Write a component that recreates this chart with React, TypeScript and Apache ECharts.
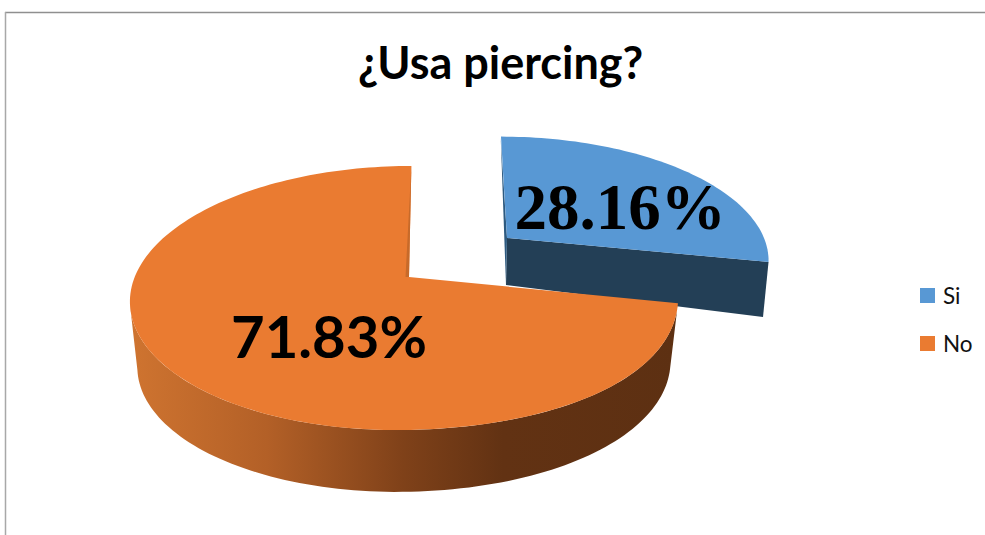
import React, { useEffect, useRef } from "react";
import * as echarts from "echarts";

const titleText = "¿Usa piercing?";
const categories = ["Si", "No"];
const sliceValues = [28.16, 71.83];
const sliceColors = ["#5898d4", "#ea7b31"];

const WIDTH = 985;
const HEIGHT = 535;

type View = {
  x0: number; y0: number; a: number; b: number; c: number; k: number; e: number;
  apex: [number, number];
};

const views: View[] = [
  { x0: 507, y0: 238, a: 257, b: 117.5, c: 7, k: 0.159, e: 0, apex: [507, 238] },
  { x0: 405, y0: 277, a: 270.3, b: 128.7, c: -7.4, k: 0.159, e: 22, apex: [409, 277] },
];

function project(view: View, deg: number, scale = 1, dy = 0): [number, number] {
  const t = (deg * Math.PI) / 180;
  const u = Math.sin(t);
  const v = -Math.cos(t);
  const d = 1 - view.k * v;
  const e = dy > 0 ? view.e * 0.45 : view.e;
  const bulge = u > 0 && v > 0 ? e * u * v * v : 0;
  return [
    view.x0 + (scale * (view.a * u + view.c * v + bulge)) / d,
    view.y0 + dy + (scale * view.b * v) / d,
  ];
}

function arc(view: View, from: number, to: number, scale = 1, dy = 0) {
  const pts: [number, number][] = [];
  const n = Math.max(8, Math.ceil(Math.abs(to - from) / 1.5));
  for (let i = 0; i <= n; i++) pts.push(project(view, from + ((to - from) * i) / n, scale, dy));
  return pts;
}

function sliceAngles(index: number): [number, number] {
  const total = sliceValues.reduce((s, v) => s + v, 0);
  let acc = 0;
  for (let i = 0; i < index; i++) acc += sliceValues[i];
  return [(acc / total) * 360, ((acc + sliceValues[index]) / total) * 360];
}

function renderBlue(_p: any, api: any) {
  const view = views[0];
  const [s, e] = sliceAngles(0);
  const rim = arc(view, s, e);
  const end = rim[rim.length - 1];
  const label = `${Number(api.value(0)).toFixed(2)}%`;
  return {
    type: "group",
    children: [
      { type: "polygon", shape: { points: [view.apex, end, [763, 317], [506, 285]] }, style: { fill: "#233f56" } },
      { type: "polygon", shape: { points: [[500.7, 137], view.apex, [506, 285]] }, style: { fill: "#2d5a80" } },
      { type: "polygon", shape: { points: [view.apex, ...rim] }, style: { fill: sliceColors[0] } },
      {
        type: "text",
        style: {
          x: 620, y: 207, text: label, align: "center", verticalAlign: "middle",
          fontFamily: "Liberation Serif", fontWeight: "bold", fontSize: 65, fill: "#000",
        },
      },
    ],
  };
}

function renderOrange(_p: any, api: any) {
  const view = views[1];
  const [s, e] = sliceAngles(1);
  const rim = arc(view, s, e);
  const wallTop = arc(view, s, 258);
  const wallBottom = arc(view, s, 258, 0.973, 66).reverse();
  const label = `${Number(api.value(0)).toFixed(2)}%`;
  return {
    type: "group",
    children: [
      {
        type: "polygon",
        shape: { points: [...wallTop, ...wallBottom] },
        style: {
          fill: new echarts.graphic.LinearGradient(0, 0, 1, 0, [
            { offset: 0, color: "#cf7430" },
            { offset: 0.25, color: "#b36027" },
            { offset: 0.5, color: "#7f4119" },
            { offset: 0.68, color: "#623213" },
            { offset: 1, color: "#5d3012" },
          ]),
        },
      },
      { type: "polygon", shape: { points: [view.apex, ...rim] }, style: { fill: sliceColors[1] } },
      { type: "polygon", shape: { points: [rim[rim.length - 1], view.apex, [405.5, 277]] }, style: { fill: "#c76a2a" } },
      {
        type: "text",
        style: {
          x: 329, y: 335, text: label, align: "center", verticalAlign: "middle",
          fontFamily: "Lato", fontWeight: "bold", fontSize: 58, fill: "#000",
        },
      },
    ],
  };
}

export default function App() {
  const ref = useRef<HTMLDivElement>(null);
  useEffect(() => {
    document.body.style.margin = "0";
    const chart = echarts.init(ref.current!, undefined, { renderer: "svg" });
    chart.setOption({
      animation: false,
      backgroundColor: "#ffffff",
      title: {
        text: titleText,
        left: 353,
        top: 34,
        textStyle: { fontFamily: "Lato", fontWeight: "bold", fontSize: 45, color: "#000" },
      },
      legend: {
        orient: "vertical",
        left: 920,
        top: 284,
        padding: 0,
        itemWidth: 15,
        itemHeight: 15,
        itemGap: 25,
        data: categories.map((name, i) => ({ name, icon: "rect", itemStyle: { color: sliceColors[i] } })),
        textStyle: { fontFamily: "Lato", fontSize: 22.5, color: "#111", padding: [0, 0, 0, 3] },
      },
      graphic: [
        { type: "line", silent: true, shape: { x1: 5, y1: 12.5, x2: WIDTH, y2: 12.5 }, style: { stroke: "#8f8f8f", lineWidth: 1.5 } },
        { type: "line", silent: true, shape: { x1: 5.5, y1: 12, x2: 5.5, y2: HEIGHT }, style: { stroke: "#a8a8a8", lineWidth: 1.5 } },
      ],
      series: [
        {
          type: "custom", name: categories[0], coordinateSystem: "none", renderItem: renderBlue,
          itemStyle: { color: sliceColors[0] }, data: [[sliceValues[0]]], z: 1,
        },
        {
          type: "custom", name: categories[1], coordinateSystem: "none", renderItem: renderOrange,
          itemStyle: { color: sliceColors[1] }, data: [[sliceValues[1]]], z: 2,
        },
      ],
    });
    return () => chart.dispose();
  }, []);
  return <div ref={ref} style={{ width: WIDTH, height: HEIGHT }} />;
}
